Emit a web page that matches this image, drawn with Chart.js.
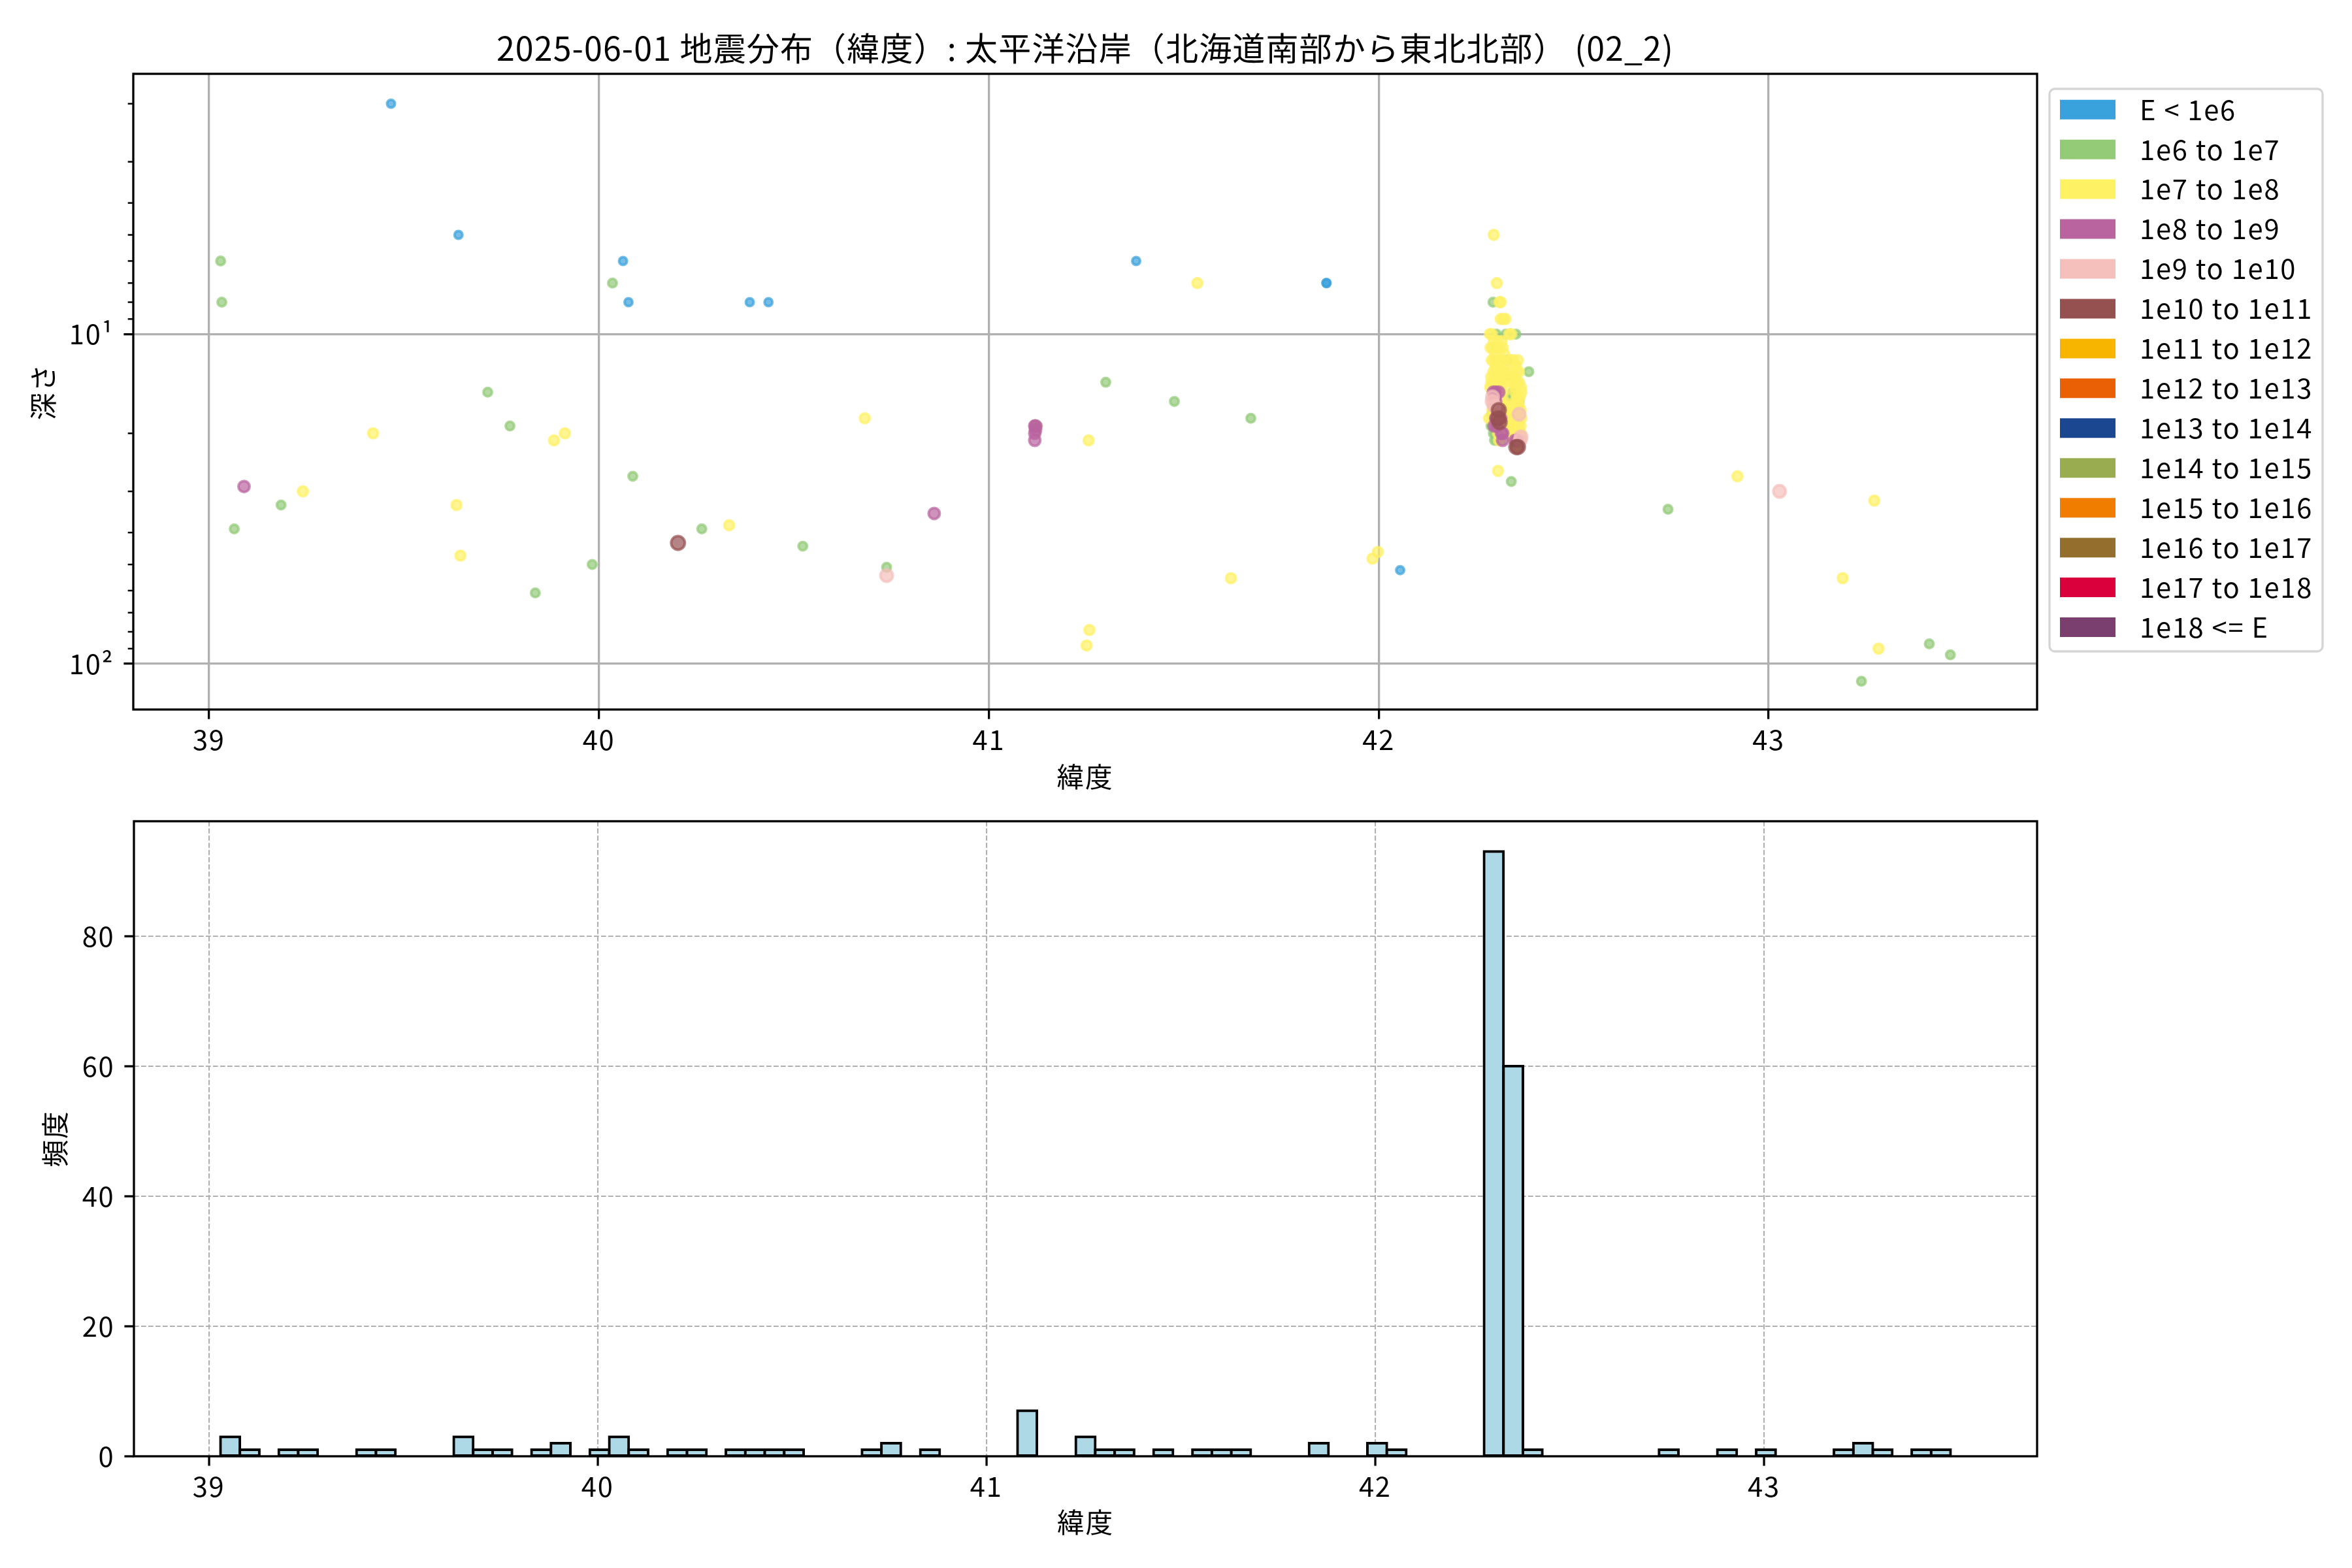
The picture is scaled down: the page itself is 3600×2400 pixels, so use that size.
<!DOCTYPE html>
<html>
<head>
<meta charset="utf-8">
<script src="https://cdn.jsdelivr.net/npm/chart.js@4/dist/chart.umd.min.js"></script>
<style>
html,body{margin:0;padding:0;background:#fff;}
#wrap{position:relative;width:3600px;height:2400px;background:#fff;overflow:hidden;}
canvas{position:absolute;left:0;}
</style>
</head>
<body>
<div id="wrap">
<canvas id="c1" width="3600" height="1230" style="top:0;width:3600px;height:1230px"></canvas>
<canvas id="c2" width="3600" height="1210" style="top:1190px;width:3600px;height:1210px"></canvas>
</div>
<script>
// ---------------- DATA ----------------
const chartTitle = '2025-06-01 地震分布（緯度）: 太平洋沿岸（北海道南部から東北北部） (02_2)';
const energyLabels = ['E < 1e6','1e6 to 1e7','1e7 to 1e8','1e8 to 1e9','1e9 to 1e10','1e10 to 1e11',
  '1e11 to 1e12','1e12 to 1e13','1e13 to 1e14','1e14 to 1e15','1e15 to 1e16','1e16 to 1e17','1e17 to 1e18','1e18 <= E'];

// E < 1e6
const lat_lt1e6 = [39.467, 39.640, 40.062, 40.076, 40.387, 40.435, 41.378, 41.866, 41.866, 42.055];
const dep_lt1e6 = [2.0, 5.0, 6.0, 8.0, 8.0, 8.0, 6.0, 7.0, 7.0, 52];

// 1e6 to 1e7
const lat_1e6_1e7 = [39.030, 39.033, 40.035, 39.715, 39.772, 39.185, 39.065, 40.087, 39.837, 39.983, 40.264,
  40.523, 40.738, 41.125, 41.300, 41.476, 41.672, 42.385, 42.742, 43.238, 43.412, 43.466,
  42.293, 42.302, 42.326, 42.352, 42.302, 42.329, 42.343, 42.344, 42.348, 42.340, 42.360,
  42.338, 42.290, 42.345, 42.288, 42.294, 42.300, 42.297, 42.313, 42.303, 42.340];
const dep_1e6_1e7 = [6.0, 8.0, 7.0, 15, 19, 33, 39, 27, 61, 50, 39,
  44, 51, 19, 14, 16, 18, 13, 34, 113, 87, 94,
  8, 10, 10, 10, 11, 12, 13.5, 15, 15, 15.5, 16,
  16, 17.5, 18, 19, 20, 20, 21, 21, 21, 28];

// 1e7 to 1e8
const lat_1e7_1e8 = [39.421, 39.885, 39.913, 40.682, 39.241, 39.635, 39.645, 40.334, 41.535, 41.256,
  41.621, 41.258, 41.251, 41.998, 41.984, 42.920, 43.271, 43.190, 43.282, 41.120,
  42.295,
  42.303,
  42.313, 42.310,
  42.313, 42.325, 42.320,
  42.285, 42.340, 42.290, 42.335,
  42.295, 42.305, 42.315,
  42.287, 42.310, 42.318, 42.292, 42.300,
  42.298, 42.322,
  42.296, 42.310, 42.338, 42.357, 42.290, 42.303, 42.345, 42.318,
  42.300, 42.320, 42.352,
  42.294, 42.308, 42.325, 42.353, 42.300, 42.340, 42.360, 42.316,
  42.288, 42.315, 42.345,
  42.289, 42.303, 42.348, 42.360, 42.295, 42.310, 42.335, 42.355, 42.320,
  42.286, 42.300, 42.350, 42.365,
  42.366, 42.350, 42.320, 42.312,
  42.355, 42.362,
  42.313, 42.357, 42.305, 42.350, 42.322,
  42.318, 42.325, 42.345, 42.360,
  42.291, 42.325, 42.364, 42.315, 42.355, 42.340, 42.298,
  42.298, 42.320, 42.350,
  42.283, 42.353, 42.366, 42.318, 42.335, 42.292,
  42.325, 42.358, 42.345,
  42.350, 42.364, 42.330, 42.340, 42.310,
  42.360, 42.320,
  42.353, 42.364, 42.345, 42.306,
  42.340, 42.358,
  42.308,
  42.356,
  42.306];
const dep_1e7_1e8 = [20, 21, 20, 18, 30, 33, 47, 38, 7.0, 21,
  55, 79, 88, 45.8, 48, 27, 32, 55, 90, 19,
  5.0,
  7.0,
  8, 8,
  9, 9, 9,
  10, 10, 10, 10,
  10.5, 10.5, 10.5,
  11, 11, 11, 11, 11,
  11.5, 11.5,
  12, 12, 12, 12, 12, 12, 12, 12,
  12.5, 12.5, 12.5,
  13, 13, 13, 13, 13, 13, 13, 13,
  13.5, 13.5, 13.5,
  14, 14, 14, 14, 14, 14, 14, 14, 14,
  14.5, 14.5, 14.5, 14.5,
  15, 15, 15, 15,
  15.5, 15.5,
  16, 16, 16, 16, 16,
  16.5, 16.5, 16.5, 16.5,
  17, 17, 17, 17, 17, 17, 17,
  17.5, 17.5, 17.5,
  18, 18, 18, 18, 18, 18,
  18.5, 18.5, 18.5,
  19, 19, 19, 19, 19,
  19.5, 19.5,
  20, 20, 20, 20,
  20.5, 20.5,
  21,
  22,
  26];

// 1e8 to 1e9
const lat_1e8_1e9 = [39.090, 40.860, 41.118, 41.120, 41.118, 41.118, 41.120,
  42.294, 42.308, 42.300, 42.298, 42.300, 42.305, 42.313, 42.300, 42.303, 42.296, 42.315, 42.318, 42.350, 42.318, 42.355];
const dep_1e8_1e9 = [29, 35, 19, 19.5, 20, 21, 19,
  15, 15, 15, 15.5, 16, 17, 18, 18, 19, 19, 20, 20, 21, 21, 21];

// 1e9 to 1e10
const lat_1e9_1e10 = [40.738, 43.028, 42.292, 42.291, 42.296, 42.360, 42.365, 42.363];
const dep_1e9_1e10 = [54, 30, 15.5, 16, 16.5, 17.5, 20.5, 21];

// 1e10 to 1e11
const lat_1e10_1e11 = [40.203, 42.308, 42.306, 42.310, 42.353, 42.357];
const dep_1e10_1e11 = [43, 17, 18, 18.5, 22, 22];

const latByClass = [lat_lt1e6, lat_1e6_1e7, lat_1e7_1e8, lat_1e8_1e9, lat_1e9_1e10, lat_1e10_1e11, [], [], [], [], [], [], [], []];
const depByClass = [dep_lt1e6, dep_1e6_1e7, dep_1e7_1e8, dep_1e8_1e9, dep_1e9_1e10, dep_1e10_1e11, [], [], [], [], [], [], [], []];

// Histogram (bin width 0.05 starting at 39.03)
const histBinStart = 39.03;
const histBinWidth = 0.05;
const histCounts = [
  3,1,0,1,1,0,0,1,1,0,
  0,0,3,1,1,0,1,2,0,1,
  3,1,0,1,1,0,1,1,1,1,
  0,0,0,1,2,0,1,0,0,0,
  0,7,0,0,3,1,1,0,1,0,
  1,1,1,0,0,0,2,0,0,2,
  1,0,0,0,0,93,60,1,0,0,
  0,0,0,0,1,0,0,1,0,1,
  0,0,0,1,2,1,0,1,1];

// Ticks
const latTicks = [39, 40, 41, 42, 43];
const depthMajorTicks = [10, 100];
const depthTickLabels = ['10¹', '10²'];
const depthMinorTicks = [2,3,4,5,6,7,8,9,20,30,40,50,60,70,80,90];
const freqTicks = [0, 20, 40, 60, 80];

// ---------------- STYLE ----------------
const energyColors = ['#39a1dc','#93cb77','#fff164','#b9649f','#f5bfbb','#955050','#f7b500',
  '#ea6005','#1b4690','#9aac50','#f07c00','#946e2c','#d9003b','#7a3f6f'];
const markerDiam = [16,17,19,21,23,25,27,29,31,33,35,37,39,41];
const FONT = "'Noto Sans CJK JP', 'Noto Sans', sans-serif";
const FS = 41.7;
const LETTER_SP = '1.75px';
const TITLE_SP = '1.15px';

// legend geometry (pixels)
const LG_PATCH_LEFT = 3153, LG_PATCH_W = 85, LG_TEXT_LEFT = 3275, LG_ROW_PAD = 19.25, LG_FIRST_ROW_TOP = 146.85;
const LG_BOX = {x0: 3137, y0: 136, x1: 3555, y1: 997, r: 8};

function rgba(hex, a) {
  const n = parseInt(hex.slice(1), 16);
  return `rgba(${(n>>16)&255},${(n>>8)&255},${n&255},${a})`;
}

Chart.defaults.font.family = FONT;
Chart.defaults.font.size = FS;
Chart.defaults.color = '#000';

const spacingPlugin = {
  id: 'lspace',
  beforeLayout(chart) { chart.ctx.letterSpacing = LETTER_SP; },
  beforeDraw(chart) { chart.ctx.letterSpacing = LETTER_SP; },
  afterLayout(chart) {
    const tb = chart.titleBlock;
    if (tb && !tb._spWrapped) {
      const orig = tb.draw;
      tb.draw = function(...args) {
        const c = this.ctx; const prev = c.letterSpacing;
        c.letterSpacing = TITLE_SP; orig.apply(this, args); c.letterSpacing = prev;
      };
      tb._spWrapped = true;
    }
  }
};

const spinePlugin = {
  id: 'spines',
  afterDatasetsDraw(chart) {
    const {left, top, right, bottom} = chart.chartArea;
    const ctx = chart.ctx;
    ctx.save();
    ctx.strokeStyle = '#000';
    ctx.lineWidth = 3.3;
    ctx.strokeRect(left, top, right - left, bottom - top);
    ctx.restore();
  }
};

const minorTickPlugin = {
  id: 'minorTicks',
  afterDraw(chart) {
    const s = chart.scales.y;
    const ctx = chart.ctx;
    ctx.save();
    ctx.strokeStyle = '#000';
    ctx.lineWidth = 2.5;
    for (const v of depthMinorTicks) {
      const y = s.getPixelForValue(v);
      ctx.beginPath();
      ctx.moveTo(chart.chartArea.left, y);
      ctx.lineTo(chart.chartArea.left - 8.3, y);
      ctx.stroke();
    }
    ctx.restore();
  }
};

const legendPlacePlugin = {
  id: 'legendPlace',
  afterLayout(chart) {
    const lg = chart.legend;
    if (!lg) return;
    lg.left = LG_PATCH_LEFT - LG_ROW_PAD; lg.top = LG_FIRST_ROW_TOP - LG_ROW_PAD;
    lg.right = 3600; lg.bottom = 1230;
    lg.width = lg.right - lg.left; lg.height = lg.bottom - lg.top;
  },
  afterDraw(chart) {
    const ctx = chart.ctx;
    const {x0, y0, x1, y1, r} = LG_BOX;
    ctx.save();
    ctx.strokeStyle = '#d5d5d5';
    ctx.lineWidth = 3.3;
    ctx.beginPath();
    ctx.moveTo(x0 + r, y0);
    ctx.lineTo(x1 - r, y0); ctx.arcTo(x1, y0, x1, y0 + r, r);
    ctx.lineTo(x1, y1 - r); ctx.arcTo(x1, y1, x1 - r, y1, r);
    ctx.lineTo(x0 + r, y1); ctx.arcTo(x0, y1, x0, y1 - r, r);
    ctx.lineTo(x0, y0 + r); ctx.arcTo(x0, y0, x0 + r, y0, r);
    ctx.closePath();
    ctx.stroke();
    ctx.restore();
  }
};

const legendBoxWidth = LG_TEXT_LEFT - LG_PATCH_LEFT - FS / 2;
function patchFill(chart, color) {
  const g = chart.ctx.createLinearGradient(LG_PATCH_LEFT, 0, LG_PATCH_LEFT + legendBoxWidth, 0);
  const f = LG_PATCH_W / legendBoxWidth;
  g.addColorStop(0, color); g.addColorStop(f, color);
  g.addColorStop(f, 'rgba(255,255,255,0)'); g.addColorStop(1, 'rgba(255,255,255,0)');
  return g;
}

// ---------------- SCATTER ----------------
const scatterDatasets = energyLabels.map((lab, k) => ({
  label: lab,
  data: latByClass[k].map((x, i) => ({x: x, y: depByClass[k][i]})),
  pointBackgroundColor: rgba(energyColors[k], 0.7),
  pointBorderColor: rgba(energyColors[k], 0.7),
  pointBorderWidth: 4,
  pointRadius: markerDiam[k] / 2 - 2,
  pointHoverRadius: markerDiam[k] / 2 - 2,
  showLine: false,
  order: 20 - k
}));

new Chart(document.getElementById('c1'), {
  type: 'scatter',
  data: {datasets: scatterDatasets},
  options: {
    responsive: false, animation: false, devicePixelRatio: 1, events: [],
    layout: {padding: {left: 0, top: 0, right: 481, bottom: 0}},
    plugins: {
      tooltip: {enabled: false},
      title: {
        display: true, text: chartTitle, fullSize: false, color: '#000',
        font: {size: 50, weight: 'normal', family: FONT, lineHeight: 1.2},
        padding: {top: 44, bottom: 9}
      },
      legend: {
        display: true, position: 'right', align: 'start', fullSize: false, maxWidth: 1,
        labels: {
          boxWidth: legendBoxWidth, boxHeight: 30, padding: LG_ROW_PAD, color: '#000',
          font: {size: FS, family: FONT},
          generateLabels: (chart) => energyLabels.map((t, i) => ({
            text: t, fillStyle: patchFill(chart, energyColors[i]), strokeStyle: 'rgba(0,0,0,0)', lineWidth: 0,
            hidden: false, datasetIndex: i, fontColor: '#000', textAlign: 'left'
          }))
        }
      }
    },
    scales: {
      x: {
        type: 'linear', position: 'bottom', min: 38.806, max: 43.6885, bounds: 'data',
        afterBuildTicks: s => { s.ticks = latTicks.map(v => ({value: v})); },
        afterFit: s => { s.height = 144; },
        ticks: {callback: v => String(v), padding: 7, color: '#000', maxRotation: 0, autoSkip: false, font: {size: FS}},
        grid: {color: '#b0b0b0', lineWidth: 3.3, tickColor: '#000', tickWidth: 3.3, tickLength: 14.6},
        border: {display: false},
        title: {display: true, text: '緯度', color: '#000', font: {size: FS, lineHeight: 1.2}, padding: {top: 0, bottom: 16}}
      },
      y: {
        type: 'logarithmic', position: 'left', reverse: true, min: 1.623, max: 137.7, bounds: 'data',
        afterBuildTicks: s => { s.ticks = depthMajorTicks.map(v => ({value: v})); },
        afterFit: s => { s.width = 204; },
        ticks: {
          callback: v => { const i = depthMajorTicks.indexOf(v); return i >= 0 ? depthTickLabels[i] : ''; },
          padding: 15, color: '#000', autoSkip: false, font: {size: FS}
        },
        grid: {color: '#b0b0b0', lineWidth: 3.3, tickColor: '#000', tickWidth: 3.3, tickLength: 14.6},
        border: {display: false},
        title: {display: true, text: '深さ', color: '#000', font: {size: FS, lineHeight: 1.2}, padding: {top: 41, bottom: 0}}
      }
    }
  },
  plugins: [spacingPlugin, spinePlugin, minorTickPlugin, legendPlacePlugin]
});

// ---------------- HISTOGRAM ----------------
const histData = histCounts.map((c, i) => ({x: histBinStart + (i + 0.5) * histBinWidth, y: c === 0 ? null : c}));

new Chart(document.getElementById('c2'), {
  type: 'bar',
  data: {datasets: [{
    label: '頻度',
    data: histData,
    backgroundColor: '#add8e6',
    borderColor: '#000',
    borderWidth: 4,
    borderSkipped: false,
    inflateAmount: 2,
    barPercentage: 1,
    categoryPercentage: 1,
    grouped: false
  }]},
  options: {
    responsive: false, animation: false, devicePixelRatio: 1, events: [],
    layout: {padding: {left: 0, top: 67, right: 482, bottom: 0}},
    plugins: {legend: {display: false}, tooltip: {enabled: false}, title: {display: false}},
    scales: {
      x: {
        type: 'linear', position: 'bottom', min: 38.8075, max: 43.7025, bounds: 'data', offset: false,
        afterBuildTicks: s => { s.ticks = latTicks.map(v => ({value: v})); },
        afterFit: s => { s.height = 171; },
        ticks: {callback: v => String(v), padding: 7, color: '#000', maxRotation: 0, autoSkip: false, font: {size: FS}},
        grid: {color: '#b0b0b0', lineWidth: 2.1, tickColor: '#000', tickWidth: 3.3, tickLength: 14.6, offset: false},
        border: {display: false, dash: [7.7, 3.3]},
        title: {display: true, text: '緯度', color: '#000', font: {size: FS, lineHeight: 1.2}, padding: {top: 0, bottom: 45}}
      },
      y: {
        type: 'linear', position: 'left', min: 0, max: 97.65, bounds: 'data',
        afterBuildTicks: s => { s.ticks = freqTicks.map(v => ({value: v})); },
        afterFit: s => { s.width = 205; },
        ticks: {callback: v => String(v), padding: 15, color: '#000', autoSkip: false, font: {size: FS}},
        grid: {color: '#b0b0b0', lineWidth: 2.1, tickColor: '#000', tickWidth: 3.3, tickLength: 14.6},
        border: {display: false, dash: [7.7, 3.3]},
        title: {display: true, text: '頻度', color: '#000', font: {size: FS, lineHeight: 1.2}, padding: {top: 59, bottom: 0}}
      }
    }
  },
  plugins: [spacingPlugin, spinePlugin]
});
</script>
</body>
</html>
